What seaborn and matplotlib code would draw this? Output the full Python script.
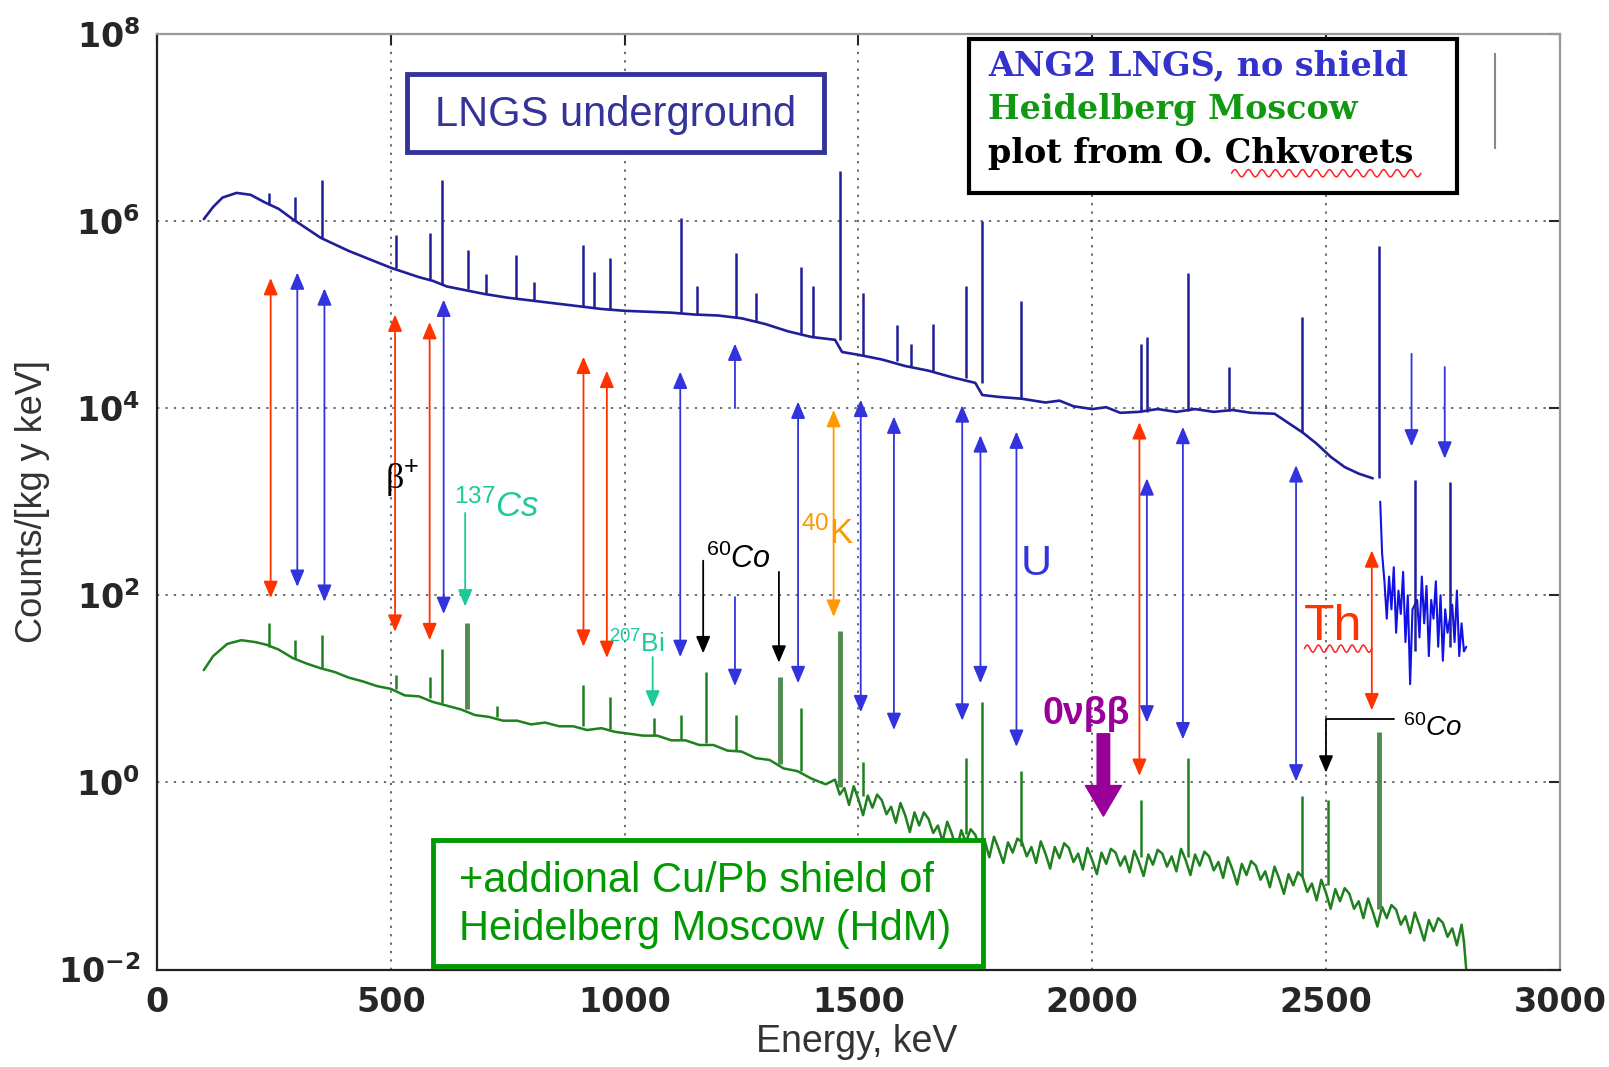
import numpy as np
import pandas as pd
import matplotlib
matplotlib.use('Agg')
import matplotlib.pyplot as plt
import seaborn as sb
from matplotlib.patches import Rectangle
from matplotlib.ticker import FixedLocator, NullLocator

# ---- ANG2 at LNGS, no shield: continuum (energy keV, log10 counts) ----
blue_E = [100, 120, 140, 170, 200, 230, 260, 290, 320, 350, 380, 410, 440, 470, 500,
          530, 560, 590, 620, 650, 700, 750, 800, 850, 900, 950, 1000, 1050, 1100, 1150,
          1200, 1250, 1300, 1350, 1400, 1450, 1465, 1500, 1550, 1600, 1650, 1700, 1750,
          1765, 1800, 1850, 1900, 1930, 1960, 2000, 2030, 2060, 2100, 2140, 2180, 2220,
          2260, 2300, 2340, 2390, 2420, 2450, 2480, 2510, 2540, 2570, 2600]
blue_log = [6.02, 6.15, 6.25, 6.30, 6.28, 6.20, 6.13, 6.02, 5.92, 5.82, 5.75, 5.68, 5.62, 5.56, 5.50,
            5.45, 5.40, 5.36, 5.30, 5.27, 5.22, 5.18, 5.15, 5.12, 5.09, 5.06, 5.04, 5.03, 5.02, 5.00,
            4.99, 4.96, 4.90, 4.82, 4.76, 4.73, 4.60, 4.57, 4.52, 4.45, 4.40, 4.33, 4.27,
            4.14, 4.12, 4.10, 4.06, 4.08, 4.02, 3.99, 4.01, 3.95, 3.96, 3.99, 3.96, 3.99,
            3.96, 3.98, 3.95, 3.94, 3.84, 3.74, 3.62, 3.48, 3.37, 3.30, 3.25]

# noisy part behind the 2614 keV line
blue_tail_E = [2616, 2620, 2625, 2630, 2635, 2640, 2645, 2650, 2655, 2660,
               2665, 2670, 2675, 2680, 2685, 2695, 2700, 2705, 2710, 2715,
               2720, 2725, 2730, 2735, 2740, 2745, 2750, 2755, 2760, 2770,
               2775, 2780, 2785, 2790, 2795, 2800]
blue_tail_log = [3.00, 2.45, 2.15, 1.75, 2.20, 1.85, 2.30, 1.60, 2.05, 1.80,
                 2.25, 1.50, 2.00, 1.05, 1.85, 1.95, 1.55, 2.20, 1.70, 2.10,
                 1.35, 1.95, 1.75, 2.15, 1.45, 2.00, 1.30, 1.85, 1.60, 1.90,
                 1.50, 2.05, 1.35, 1.70, 1.40, 1.45]

# blue lines: energy, base, top (log10)
blue_peak_E = [239, 295, 352, 511, 583, 609, 665, 703, 768, 806, 911, 934, 968, 1120, 1155,
               1238, 1281, 1377, 1402, 1461, 1509, 1583, 1613, 1660, 1730, 1764, 1847,
               2104, 2118, 2204, 2293, 2448, 2614, 2690, 2765]
blue_peak_base = [6.17, 6.00, 5.82, 5.50, 5.38, 5.32, 5.27, 5.23, 5.18, 5.16, 5.09, 5.07, 5.05,
                  5.02, 5.00, 4.96, 4.92, 4.80, 4.76, 4.73, 4.57, 4.50, 4.45, 4.40, 4.32,
                  4.27, 4.10, 3.96, 3.96, 3.97, 3.97, 3.74, 3.25, 1.40, 1.45]
blue_peak_top = [6.30, 6.26, 6.44, 5.85, 5.87, 6.44, 5.69, 5.43, 5.64, 5.35, 5.74, 5.45, 5.60,
                 6.03, 5.31, 5.66, 5.23, 5.51, 5.30, 6.53, 5.23, 4.89, 4.68, 4.90, 5.30,
                 6.00, 5.14, 4.68, 4.76, 5.44, 4.44, 4.97, 5.73, 3.23, 3.21]

# ---- Heidelberg-Moscow (extra Cu/Pb shield) ----
green_E = [100, 120, 150, 180, 210, 235, 260, 290, 320, 350, 380, 410, 440, 470, 500,
           530, 560, 590, 620, 650, 680, 710, 740, 770, 800, 830, 860, 890, 920, 950,
           980, 1010, 1040, 1070, 1100, 1130, 1160, 1190, 1220, 1250, 1280, 1310, 1340,
           1370, 1400, 1430]
green_log = [1.20, 1.35, 1.48, 1.52, 1.50, 1.47, 1.42, 1.33, 1.27, 1.22, 1.18, 1.12, 1.08, 1.03, 1.00,
             0.93, 0.92, 0.86, 0.82, 0.78, 0.72, 0.70, 0.66, 0.66, 0.62, 0.64, 0.60, 0.60, 0.56, 0.58,
             0.54, 0.52, 0.50, 0.50, 0.45, 0.45, 0.40, 0.40, 0.34, 0.33, 0.26, 0.24, 0.15,
             0.12, 0.04, -0.02]

# above 1450 keV the spectrum is one noisy band, read every 10 keV
green_noise_E = list(range(1450, 2800, 10)) + [2795, 2800]
green_noise_log = [
    0.03, -0.13, -0.06, -0.24, -0.04, -0.18, -0.35, -0.14, -0.27, -0.13,
    -0.19, -0.34, -0.26, -0.43, -0.22, -0.35, -0.53, -0.32, -0.46, -0.32,
    -0.39, -0.54, -0.46, -0.63, -0.42, -0.55, -0.72, -0.51, -0.64, -0.50,
    -0.56, -0.71, -0.62, -0.80, -0.58, -0.71, -0.86, -0.64, -0.75, -0.60,
    -0.64, -0.79, -0.69, -0.86, -0.63, -0.76, -0.92, -0.69, -0.81, -0.65,
    -0.70, -0.85, -0.76, -0.93, -0.70, -0.83, -0.98, -0.75, -0.87, -0.71,
    -0.75, -0.89, -0.79, -0.96, -0.73, -0.85, -1.00, -0.77, -0.88, -0.72,
    -0.76, -0.90, -0.79, -0.95, -0.71, -0.83, -0.99, -0.77, -0.89, -0.74,
    -0.79, -0.94, -0.85, -1.02, -0.80, -0.93, -1.09, -0.87, -0.99, -0.84,
    -0.89, -1.04, -0.95, -1.12, -0.90, -1.03, -1.19, -0.98, -1.10, -0.96,
    -1.01, -1.17, -1.08, -1.26, -1.04, -1.18, -1.35, -1.14, -1.27, -1.13,
    -1.19, -1.35, -1.27, -1.45, -1.24, -1.38, -1.54, -1.33, -1.45, -1.31,
    -1.36, -1.52, -1.43, -1.61, -1.39, -1.53, -1.69, -1.47, -1.59, -1.45,
    -1.50, -1.65, -1.56, -1.74, -1.52, -1.70, -2.00]

green_peak_E = [239, 295, 352, 511, 583, 609, 662, 727, 911, 969, 1063, 1120, 1173, 1238,
                1332, 1377, 1461, 1509, 1730, 1764, 1847, 2104, 2204, 2448, 2505, 2614]
green_peak_base = [1.45, 1.32, 1.22, 1.00, 0.90, 0.85, 0.78, 0.70, 0.60, 0.57, 0.50, 0.46, 0.42,
                   0.35, 0.20, 0.12, -0.05, -0.15, -0.55, -0.60, -0.68, -0.80, -0.80, -1.00,
                   -1.10, -1.35]
green_peak_top = [1.70, 1.52, 1.58, 1.15, 1.13, 1.43, 1.70, 0.82, 1.04, 0.91, 0.69, 0.72, 1.18,
                  0.72, 1.13, 0.80, 1.62, 0.22, 0.26, 0.86, 0.12, -0.19, 0.26, -0.15, -0.19, 0.54]
green_strong = [662, 1332, 1461, 2614]

# ---- line identification arrows: energy, upper end, lower end (log10) ----
th_arrow_E = [243, 509, 583, 912, 962, 2101, 2598]
th_arrow_top = [5.39, 5.00, 4.92, 4.55, 4.40, 3.85, 2.48]
th_arrow_bot = [1.97, 1.61, 1.52, 1.45, 1.33, 0.07, 0.77]

u_arrow_E = [300, 358, 613, 1119, 1371, 1505, 1576, 1722, 1761, 1838, 2117, 2194, 2436]
u_arrow_top = [5.45, 5.28, 5.16, 4.39, 4.07, 4.09, 3.91, 4.03, 3.71, 3.75, 3.25, 3.80, 3.39]
u_arrow_bot = [2.09, 1.93, 1.80, 1.34, 1.06, 0.75, 0.56, 0.66, 1.06, 0.38, 0.64, 0.46, 0.01]

# broken / one-sided blue arrows
u_up_E, u_up_from, u_up_to = [1236], [4.00], [4.69]
u_down_E = [1236, 2683, 2754]
u_down_from = [1.98, 4.58, 4.44]
u_down_to = [1.03, 3.59, 3.46]

k_arrow_E, k_arrow_top, k_arrow_bot = [1447], [3.98], [1.77]
co_arrow_E, co_arrow_top, co_arrow_bot = [1168, 1330], [2.37, 2.25], [1.38, 1.28]
cs_arrow_E, cs_arrow_top, cs_arrow_bot = [659], [2.88], [1.88]
bi_arrow_E, bi_arrow_top, bi_arrow_bot = [1060], [1.34], [0.80]
qbb_E, qbb_top, qbb_bot = 2024, 0.52, -0.36
co_bottom_E = [2645, 2500, 2500]
co_bottom_log = [0.675, 0.675, 0.105]

legend_lines = ['ANG2 LNGS, no shield', 'Heidelberg Moscow', 'plot from O. Chkvorets']

BLUE = '#1f1f99'
BLUE2 = '#1212e6'
GREEN = '#1e801e'
GREEN_PEAK = '#4f8a4f'
RED = '#ff3300'
ABLUE = '#3333dd'
ORANGE = '#ff9900'
TEAL = '#1dc99a'
PURPLE = '#990099'

sb.set_theme(style='white')
plt.rcParams['font.family'] = ['Liberation Sans', 'DejaVu Sans']
plt.rcParams['mathtext.fontset'] = 'custom'
plt.rcParams['mathtext.rm'] = 'Liberation Sans'
plt.rcParams['mathtext.it'] = 'Liberation Sans:italic'
plt.rcParams['mathtext.bf'] = 'Liberation Sans:bold'

fig = plt.figure(figsize=(16.09, 10.67), dpi=100)
ax = fig.add_axes([0.0976, 0.0913, 0.8718, 0.877])

lin = lambda v: np.power(10.0, np.asarray(v, dtype=float))

df_blue = pd.DataFrame({'E': blue_E, 'c': lin(blue_log)})
df_tail = pd.DataFrame({'E': blue_tail_E, 'c': lin(blue_tail_log)})
df_green = pd.DataFrame({'E': green_E + green_noise_E, 'c': lin(green_log + green_noise_log)})

sb.lineplot(data=df_green, x='E', y='c', sort=False, color=GREEN, lw=1.8, ax=ax)
weak = [i for i, e in enumerate(green_peak_E) if e not in green_strong]
strong = [i for i, e in enumerate(green_peak_E) if e in green_strong]
ax.vlines([green_peak_E[i] for i in weak], lin([green_peak_base[i] for i in weak]),
          lin([green_peak_top[i] for i in weak]), color=GREEN, lw=1.8)
ax.vlines([green_peak_E[i] for i in strong], lin([green_peak_base[i] for i in strong]),
          lin([green_peak_top[i] for i in strong]), color=GREEN_PEAK, lw=3.5)
sb.lineplot(data=df_blue, x='E', y='c', sort=False, color=BLUE, lw=1.9, ax=ax)
sb.lineplot(data=df_tail, x='E', y='c', sort=False, color=BLUE2, lw=1.5, ax=ax)
ax.vlines(blue_peak_E, lin(blue_peak_base), lin(blue_peak_top), color=BLUE, lw=1.8)


def arrow(x, y0, y1, color, style='<|-|>', lw=1.3):
    ax.annotate('', xy=(x, lin(y1)), xytext=(x, lin(y0)),
                arrowprops=dict(arrowstyle=style + ',head_length=0.85,head_width=0.36',
                                color=color, lw=lw, shrinkA=0, shrinkB=0,
                                mutation_scale=12))


for e, t, b in zip(th_arrow_E, th_arrow_top, th_arrow_bot):
    arrow(e, t, b, RED)
for e, t, b in zip(u_arrow_E, u_arrow_top, u_arrow_bot):
    arrow(e, t, b, ABLUE)
for e, a, b in zip(u_up_E, u_up_from, u_up_to):
    arrow(e, a, b, ABLUE, style='-|>')
for e, a, b in zip(u_down_E, u_down_from, u_down_to):
    arrow(e, a, b, ABLUE, style='-|>')
for e, t, b in zip(k_arrow_E, k_arrow_top, k_arrow_bot):
    arrow(e, t, b, ORANGE)
for e, t, b in zip(co_arrow_E, co_arrow_top, co_arrow_bot):
    arrow(e, t, b, 'black', style='-|>')
for e, t, b in zip(cs_arrow_E, cs_arrow_top, cs_arrow_bot):
    arrow(e, t, b, TEAL, style='-|>')
for e, t, b in zip(bi_arrow_E, bi_arrow_top, bi_arrow_bot):
    arrow(e, t, b, TEAL, style='-|>')

ax.plot(co_bottom_E[:2], lin(co_bottom_log[:2]), color='black', lw=1.3)
arrow(co_bottom_E[1], co_bottom_log[1], co_bottom_log[2], 'black', style='-|>')

ax.annotate('', xy=(qbb_E, lin(qbb_bot)), xytext=(qbb_E, lin(qbb_top)),
            arrowprops=dict(arrowstyle='simple,head_length=1.1,head_width=1.3,tail_width=0.45',
                            color=PURPLE, shrinkA=0, shrinkB=0, mutation_scale=20))

# stray bar at top right of the original
ax.vlines([2862], [lin(6.77)], [lin(7.79)], color='#888888', lw=1.5)

# labels on the plot
ax.text(488, lin(3.25), r'β$^{+}$', fontsize=26, color='black', family=['Liberation Serif'],
        va='center')
ax.text(636, lin(2.95), r'$^{137}\mathit{Cs}$', fontsize=25, color=TEAL, va='center')
ax.text(966, lin(1.48), r'$^{207}$Bi', fontsize=19, color=TEAL, va='center')
ax.text(1174, lin(2.38), r'$^{60}\mathit{Co}$', fontsize=22, color='black', va='center')
ax.text(1378, lin(2.66), r'$^{40}$K', fontsize=25, color=ORANGE, va='center')
ax.text(1848, lin(2.33), 'U', fontsize=31, color=ABLUE, va='center')
ax.text(2452, lin(1.66), 'Th', fontsize=36, color=RED, va='center')
ax.text(1893, lin(0.73), '0νββ', fontsize=27, color=PURPLE, va='center', weight='bold')
ax.text(2664, lin(0.58), r'$^{60}\mathit{Co}$', fontsize=20, color='black', va='center')


def squiggle(x0, x1, y, n=14, amp=0.004):
    # red spell-check underline of the original slide
    t = np.linspace(0, 1, n * 8 + 1)
    ax.plot(x0 + (x1 - x0) * t, y + amp * np.sin(2 * np.pi * n * t),
            transform=ax.transAxes, color='#ff2222', lw=1.1, zorder=7, clip_on=False)


squiggle(0.766, 0.901, 0.851)
squiggle(0.818, 0.866, 0.343, n=6)

# boxes
ax.add_patch(Rectangle((0.1785, 0.874), 0.297, 0.083, transform=ax.transAxes,
                       fill=True, fc='white', ec='#333399', lw=3.5, zorder=5))
ax.text(0.327, 0.913, 'LNGS underground', transform=ax.transAxes, fontsize=30,
        color='#333399', ha='center', va='center', zorder=6)

ax.add_patch(Rectangle((0.579, 0.830), 0.348, 0.1645, transform=ax.transAxes,
                       fill=True, fc='white', ec='black', lw=3, zorder=5))
legend_colors = ['#3333cc', '#119911', 'black']
for i, (s, c) in enumerate(zip(legend_lines, legend_colors)):
    ax.text(0.5925, 0.966 - i * 0.047, s, transform=ax.transAxes, fontsize=24,
            color=c, weight='bold', family=['DejaVu Serif'], va='center', zorder=6)

ax.add_patch(Rectangle((0.1968, 0.0033), 0.392, 0.1357, transform=ax.transAxes,
                       fill=True, fc='white', ec='#009900', lw=3.5, zorder=5))
ax.text(0.215, 0.095, '+addional Cu/Pb shield of', transform=ax.transAxes, fontsize=30,
        color='#009900', va='center', zorder=6)
ax.text(0.215, 0.043, 'Heidelberg Moscow (HdM)', transform=ax.transAxes, fontsize=30,
        color='#009900', va='center', zorder=6)

# axes
ax.set_yscale('log')
ax.set_xlim(0, 3000)
ax.set_ylim(1e-2, 1e8)
ax.xaxis.set_major_locator(FixedLocator([0, 500, 1000, 1500, 2000, 2500, 3000]))
ax.yaxis.set_major_locator(FixedLocator([1e-2, 1e0, 1e2, 1e4, 1e6, 1e8]))
ax.yaxis.set_minor_locator(NullLocator())
ax.grid(True, which='major', color='#444444', lw=1.1, ls=(0, (1.5, 4)))
ax.tick_params(axis='both', direction='in', length=8, width=1.5, labelsize=24,
               top=True, right=True, pad=12)
for lab in ax.get_xticklabels() + ax.get_yticklabels():
    lab.set_fontweight('bold')
    lab.set_family(['DejaVu Sans'])
for s in ['left', 'bottom']:
    ax.spines[s].set_color('#222222')
    ax.spines[s].set_linewidth(1.6)
for s in ['top', 'right']:
    ax.spines[s].set_color('#999999')
    ax.spines[s].set_linewidth(1.6)

ax.set_xlabel('Energy, keV', fontsize=27, color='#333333')
ax.set_ylabel('Counts/[kg y keV]', fontsize=26, color='#333333')
ax.xaxis.set_label_coords(0.499, -0.058)
ax.yaxis.set_label_coords(-0.076, 0.5)

fig.savefig('out.png', dpi=100)
